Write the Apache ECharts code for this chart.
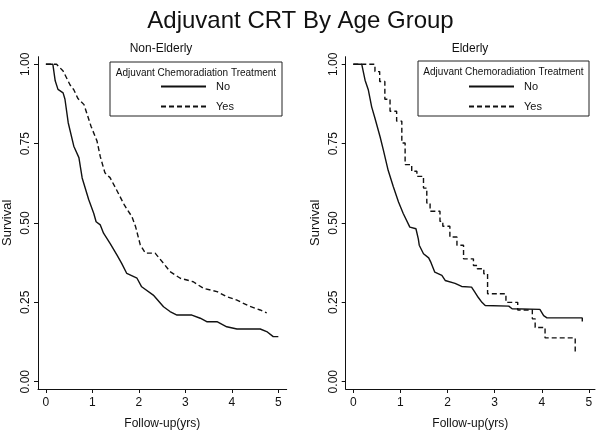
<!DOCTYPE html>
<html><head><meta charset="utf-8">
<script src="https://cdn.jsdelivr.net/npm/echarts@6/dist/echarts.min.js"></script>
<style>html,body{margin:0;padding:0;background:#fff}#c{width:601px;height:437px}</style>
</head><body><div id="c"></div>
<script>
// Tick values
const xTicks = [0, 1, 2, 3, 4, 5];
const yTicks = [0, 0.25, 0.5, 0.75, 1];
const seriesNames = ['No', 'Yes'];
const panelTitles = ['Non-Elderly', 'Elderly'];
const legendTitle = 'Adjuvant Chemoradiation Treatment';

// Non-Elderly, no adjuvant CRT [years, survival]
const nonElderlyNo = [[0,1],[0.15,1],[0.2,0.948],[0.26,0.921],[0.37,0.91],[0.41,0.89],[0.48,0.816],[0.6,0.742],[0.71,0.706],[0.78,0.642],[0.92,0.574],[1.03,0.53],[1.08,0.504],[1.17,0.494],[1.24,0.468],[1.38,0.436],[1.53,0.399],[1.63,0.373],[1.74,0.341],[1.96,0.326],[2.06,0.299],[2.31,0.273],[2.53,0.236],[2.67,0.221],[2.82,0.21],[3.14,0.21],[3.32,0.2],[3.46,0.189],[3.68,0.189],[3.89,0.173],[4.11,0.166],[4.61,0.166],[4.75,0.158],[4.89,0.142],[5.0,0.142]];
// Non-Elderly, adjuvant CRT
const nonElderlyYes = [[0,1],[0.23,1],[0.37,0.979],[0.52,0.935],[0.6,0.92],[0.69,0.892],[0.82,0.873],[0.97,0.805],[1.1,0.758],[1.17,0.709],[1.27,0.658],[1.38,0.643],[1.5,0.61],[1.69,0.556],[1.85,0.52],[1.93,0.488],[2.03,0.431],[2.14,0.405],[2.35,0.405],[2.53,0.373],[2.67,0.347],[2.89,0.326],[3.17,0.315],[3.39,0.294],[3.68,0.284],[3.89,0.268],[4.11,0.257],[4.36,0.239],[4.61,0.226],[4.75,0.217]];
// Elderly, no adjuvant CRT
const elderlyNo = [[0,1],[0.18,1],[0.25,0.95],[0.32,0.919],[0.39,0.866],[0.46,0.83],[0.57,0.771],[0.64,0.729],[0.74,0.666],[0.85,0.614],[0.96,0.566],[1.06,0.53],[1.2,0.487],[1.33,0.482],[1.38,0.45],[1.4,0.43],[1.49,0.403],[1.6,0.39],[1.65,0.375],[1.73,0.345],[1.88,0.335],[1.95,0.319],[2.16,0.31],[2.3,0.3],[2.51,0.298],[2.58,0.282],[2.65,0.266],[2.73,0.25],[2.8,0.24],[3.3,0.238],[3.37,0.23],[3.96,0.228],[4.04,0.208],[4.11,0.201],[4.86,0.201],[4.86,0.19]];
// Elderly, adjuvant CRT (event time, survival after event)
const elderlyYes = [[0,1],[0.46,0.977],[0.56,0.946],[0.67,0.89],[0.78,0.852],[0.92,0.821],[1.03,0.752],[1.1,0.684],[1.24,0.663],[1.35,0.647],[1.49,0.61],[1.56,0.563],[1.63,0.537],[1.84,0.505],[1.9,0.49],[2.05,0.456],[2.2,0.43],[2.34,0.387],[2.55,0.366],[2.63,0.356],[2.77,0.34],[2.85,0.277],[3.24,0.25],[3.49,0.226],[3.8,0.198],[3.86,0.171],[4.07,0.138],[4.71,0.093]];

const FONT = 'Liberation Sans, Arial, sans-serif';
const chart = echarts.init(document.getElementById('c'), null, {renderer: 'canvas'});

function xAxisCfg(gi, min, max) {
  return {
    type: 'value', gridIndex: gi, min: min, max: max,
    name: 'Follow-up(yrs)', nameLocation: 'middle', nameGap: 29,
    nameTextStyle: {color: '#111', fontSize: 12, fontFamily: FONT},
    axisLine: {show: true, onZero: false, lineStyle: {color: '#111', width: 1}},
    axisTick: {show: true, length: 4, lineStyle: {color: '#111'}, customValues: xTicks},
    axisLabel: {color: '#111', fontSize: 12, fontFamily: FONT, margin: 8, customValues: xTicks, formatter: v => String(Math.round(v))},
    splitLine: {show: false}
  };
}
function yAxisCfg(gi) {
  return {
    type: 'value', gridIndex: gi, min: -0.023, max: 1.024,
    name: 'Survival', nameLocation: 'middle', nameGap: 24,
    nameTextStyle: {color: '#111', fontSize: 13, fontFamily: FONT},
    axisLine: {show: true, onZero: false, lineStyle: {color: '#111', width: 1}},
    axisTick: {show: true, length: 4, lineStyle: {color: '#111'}, customValues: yTicks},
    axisLabel: {color: '#111', fontSize: 12, fontFamily: FONT, rotate: 90, margin: 6, customValues: yTicks, formatter: v => v.toFixed(2)},
    splitLine: {show: false}
  };
}
function lineSeries(name, data, xi, dashed, step) {
  return {
    type: 'line', name: name, xAxisIndex: xi, yAxisIndex: xi, data: data,
    showSymbol: false, symbol: 'none', step: step || false, animation: false,
    lineStyle: {color: '#111', width: 1.4, type: dashed ? [5, 3] : 'solid'},
    itemStyle: {color: '#111'}
  };
}
function legendBox(x, y, w, h) {
  return [
    {type: 'rect', shape: {x: x, y: y, width: w, height: h}, style: {fill: '#fff', stroke: '#222', lineWidth: 1}, z: 10},
    {type: 'text', x: x + w / 2, y: y + 11, style: {text: legendTitle, fill: '#111', font: '10px ' + FONT, textAlign: 'center', textVerticalAlign: 'middle'}, z: 11}
  ];
}
function legendCfg(left) {
  return {data: seriesNames, orient: 'vertical', left: left, top: 81, padding: 0, itemWidth: 45, itemHeight: 12, itemGap: 9, z: 20,
    itemStyle: {opacity: 0}, selectedMode: false,
    textStyle: {color: '#111', fontSize: 11, fontFamily: FONT, padding: [0, 0, 0, 5]}};
}

chart.setOption({
  backgroundColor: '#fff',
  animation: false,
  title: {text: 'Adjuvant CRT By Age Group', left: 'center', top: 4, textStyle: {fontSize: 24, fontWeight: 'normal', color: '#111', fontFamily: FONT}},
  grid: [
    {left: 38, top: 56.7, width: 248.7, height: 332.3, containLabel: false},
    {left: 345.7, top: 56.7, width: 249.3, height: 332.3, containLabel: false}
  ],
  xAxis: [xAxisCfg(0, -0.17, 5.18), xAxisCfg(1, -0.161, 5.13)],
  yAxis: [yAxisCfg(0), yAxisCfg(1)],
  legend: [legendCfg(160), legendCfg(468)],
  graphic: [
    {type: 'text', x: 161, y: 49, style: {text: panelTitles[0], fill: '#111', font: '12px ' + FONT, textAlign: 'center', textVerticalAlign: 'middle'}},
    {type: 'text', x: 470, y: 49, style: {text: panelTitles[1], fill: '#111', font: '12px ' + FONT, textAlign: 'center', textVerticalAlign: 'middle'}},
    ...legendBox(110, 62, 172, 54),
    ...legendBox(418, 61, 171, 55)
  ],
  series: [
    lineSeries(seriesNames[0], nonElderlyNo, 0, false),
    lineSeries(seriesNames[1], nonElderlyYes, 0, true),
    lineSeries(seriesNames[0], elderlyNo, 1, false),
    lineSeries(seriesNames[1], elderlyYes, 1, true, 'end')
  ]
});
</script></body></html>
